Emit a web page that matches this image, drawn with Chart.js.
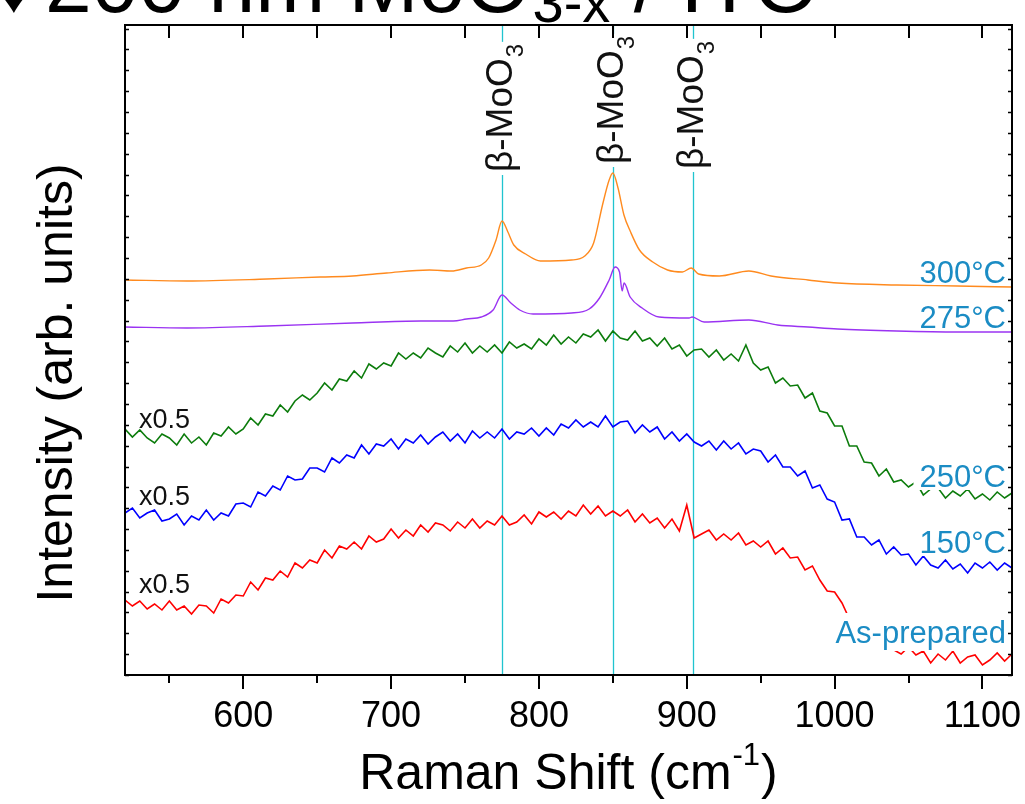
<!DOCTYPE html>
<html>
<head>
<meta charset="utf-8">
<script src="https://cdn.jsdelivr.net/npm/chart.js@4.4.1/dist/chart.umd.min.js"></script>
<style>
  html, body { margin: 0; padding: 0; background: #fff; }
  #wrap { width: 1025px; height: 804px; }
</style>
</head>
<body>
<div id="wrap"><canvas id="raman" width="1025" height="804"></canvas></div>
<script>
// ---------- data (Raman shift in cm-1, intensity in arb. units, offset per trace) ----------
var shiftNoisy = [520, 525, 530, 535, 540, 545, 550, 555, 560, 565,
  570, 575, 580, 585, 590, 595, 600, 605, 610, 615,
  620, 625, 630, 635, 640, 645, 650, 655, 660, 665,
  670, 675, 680, 685, 690, 695, 700, 705, 710, 715,
  720, 725, 730, 735, 740, 745, 750, 755, 760, 765,
  770, 775, 780, 785, 790, 795, 800, 805, 810, 815,
  820, 825, 830, 835, 840, 845, 850, 855, 860, 865,
  870, 875, 880, 885, 890, 895, 900, 905, 910, 915,
  920, 925, 930, 935, 940, 945, 950, 955, 960, 965,
  970, 975, 980, 985, 990, 995, 1000, 1005, 1010, 1015,
  1020, 1025, 1030, 1035, 1040, 1045, 1050, 1055, 1060, 1065,
  1070, 1075, 1080, 1085, 1090, 1095, 1100, 1105, 1110, 1115,
  1120];

// 250 °C (x0.5)
var int250 = [246, 238, 245, 237, 232, 241, 237, 230, 241, 232,
  238, 230, 242, 239, 248, 241, 246, 257, 250, 261,
  259, 270, 263, 274, 280, 275, 282, 292, 285, 296,
  294, 304, 297, 311, 306, 312, 309, 322, 316, 322,
  317, 327, 322, 318, 329, 323, 332, 322, 329, 323,
  330, 322, 333, 327, 331, 326, 336, 330, 340, 331,
  338, 332, 341, 338, 345, 334, 344, 337, 335, 344,
  334, 337, 329, 337, 326, 330, 319, 325, 326, 318,
  325, 315, 321, 314, 330, 312, 305, 308, 292, 297,
  289, 290, 277, 282, 264, 262, 249, 249, 229, 229,
  213, 212, 199, 206, 193, 195, 188, 193, 180, 186,
  187, 177, 184, 179, 186, 176, 181, 175, 183, 177,
  182];

// 150 °C (x0.5)
var int150 = [162, 167, 157, 162, 165, 154, 156, 161, 150, 159,
  155, 165, 155, 162, 159, 171, 172, 168, 183, 179,
  189, 185, 199, 195, 196, 207, 207, 203, 217, 212,
  220, 217, 230, 221, 231, 229, 236, 226, 236, 232,
  240, 231, 238, 243, 234, 241, 232, 244, 237, 243,
  237, 246, 236, 243, 241, 247, 239, 247, 240, 251,
  247, 255, 248, 253, 248, 259, 248, 253, 254, 242,
  250, 243, 248, 236, 243, 234, 241, 233, 229, 234,
  225, 234, 226, 232, 221, 226, 224, 213, 220, 208,
  208, 199, 204, 187, 190, 176, 173, 155, 156, 138,
  138, 130, 135, 121, 128, 120, 121, 110, 119, 110,
  107, 115, 106, 111, 102, 112, 107, 113, 105, 112,
  107];

// As-prepared (x0.5)
var intAsPrepared = [75, 69, 74, 66, 71, 65, 74, 65, 69, 61,
  70, 69, 62, 76, 72, 80, 79, 93, 85, 97,
  95, 104, 98, 112, 107, 115, 112, 125, 117, 129,
  126, 133, 126, 139, 133, 136, 146, 137, 145, 139,
  150, 143, 152, 150, 144, 153, 147, 156, 147, 154,
  150, 159, 150, 153, 160, 151, 163, 158, 163, 156,
  164, 159, 170, 161, 169, 159, 164, 159, 165, 153,
  161, 152, 157, 147, 156, 144, 170, 137, 141, 145,
  135, 141, 135, 142, 130, 134, 128, 134, 121, 127,
  117, 118, 105, 109, 95, 84, 83, 72, 56, 60,
  44, 44, 31, 37, 25, 21, 28, 20, 24, 12,
  21, 15, 24, 12, 18, 20, 10, 15, 22, 14,
  21];

// 300 °C
var shift300 = [520, 562, 616, 652, 674, 697, 726, 741, 751, 761,
  766, 771, 775, 779, 783, 791, 801, 822, 831, 837,
  843, 847.5, 850, 853.5, 857.5, 862, 868, 877, 887, 897,
  903, 908, 922, 942, 957, 982, 1002, 1042, 1083, 1120];
var int300 = [395, 394, 396, 398, 399, 402, 405, 404, 407, 410,
  417, 435, 454, 443, 430, 421, 414, 415, 419, 432,
  470, 495, 502, 487, 460, 443, 425, 413, 405, 403,
  407, 401, 399, 404, 399, 395, 392, 390, 389, 388];

// 275 °C
var shift275 = [520, 562, 616, 674, 720, 742, 751, 761, 769, 775,
  781, 787, 796, 822, 834, 841, 847.5, 851.5, 854.5, 856.3,
  857.6, 861.7, 869.8, 881.3, 901.6, 903.6, 911.7, 942, 961.5, 982,
  1002, 1042, 1083, 1120];
var int275 = [348, 347, 349, 352, 354, 354, 356, 358, 365, 380,
  372, 365, 361, 362, 366, 377, 395, 408, 403, 384,
  392, 378, 367, 358, 357, 358, 353, 355, 350, 348,
  346, 344, 343, 343];

// beta-MoO3 reference positions
var betaPeaks = [775, 850, 904];

// axis ticks
var xMajorTicks = [600, 700, 800, 900, 1000, 1100];
var xTickLabels = ['600', '700', '800', '900', '1000', '1100'];
var xMinorTicks = [550, 650, 750, 850, 950, 1050];

// trace labels
var traceLabels = ['300°C', '275°C', '250°C', '150°C', 'As-prepared'];
var scaleLabels = ['x0.5', 'x0.5', 'x0.5'];

// ---------- helpers ----------
function pairs(xs, ys) {
  return xs.map(function (x, i) { return { x: x, y: ys[i] }; });
}

var FONT = '"Liberation Sans", Arial, "DejaVu Sans", sans-serif';

// ---------- decorations plugin ----------
var ramanDecor = {
  id: 'ramanDecor',
  beforeDatasetsDraw: function (chart) {
    var ctx = chart.ctx, a = chart.chartArea, xs = chart.scales.x;
    ctx.save();
    ctx.strokeStyle = '#20c4cf';
    ctx.lineWidth = 1.3;
    betaPeaks.forEach(function (p) {
      var px = Math.round(xs.getPixelForValue(p)) + 0.5;
      ctx.beginPath();
      ctx.moveTo(px, a.top);
      ctx.lineTo(px, a.bottom);
      ctx.stroke();
    });
    ctx.restore();
  },
  afterDatasetsDraw: function (chart) {
    var ctx = chart.ctx, a = chart.chartArea;
    var xs = chart.scales.x, ys = chart.scales.y;
    ctx.save();

    // beta-MoO3 labels, rotated, with white backing over the reference lines
    var betaBottoms = [172, 164, 169];
    betaPeaks.forEach(function (p, i) {
      var px = xs.getPixelForValue(p);
      ctx.save();
      ctx.translate(px + 10, betaBottoms[i]);
      ctx.rotate(-Math.PI / 2);
      ctx.font = '37px ' + FONT;
      var w1 = ctx.measureText('\u03b2-MoO').width;
      ctx.font = '24px ' + FONT;
      var w2 = ctx.measureText('3').width;
      ctx.fillStyle = '#fff';
      ctx.fillRect(-3, -30, w1 + w2 + 6, 46);
      ctx.fillStyle = '#111';
      ctx.textBaseline = 'alphabetic';
      ctx.textAlign = 'left';
      ctx.font = '37px ' + FONT;
      ctx.fillText('\u03b2-MoO', 0, 0);
      ctx.font = '24px ' + FONT;
      ctx.fillText('3', w1 + 1, 11);
      ctx.restore();
    });

    // temperature labels
    var tBase = [283, 328, 487, 553, 643];
    var tBox = [false, false, true, true, true];
    ctx.font = '31px ' + FONT;
    ctx.textAlign = 'right';
    ctx.textBaseline = 'alphabetic';
    traceLabels.forEach(function (t, i) {
      var w = ctx.measureText(t).width;
      var rx = 1006;
      if (tBox[i]) {
        ctx.fillStyle = '#fff';
        var desc = t === 'As-prepared' ? 8 : 3;
        var up = t === 'As-prepared' ? 30 : 25;
        ctx.fillRect(rx - w - 6, tBase[i] - up, w + 9, up + desc);
      }
      ctx.fillStyle = '#1b8cc4';
      ctx.fillText(t, rx, tBase[i]);
    });

    // x0.5 labels
    var sBase = [428, 505, 593];
    ctx.font = '27px ' + FONT;
    ctx.textAlign = 'left';
    ctx.fillStyle = '#111';
    scaleLabels.forEach(function (s, i) { ctx.fillText(s, 139, sBase[i]); });

    // frame
    ctx.strokeStyle = '#000';
    ctx.lineWidth = 2;
    ctx.strokeRect(a.left, a.top, a.right - a.left, a.bottom - a.top);

    // x ticks: bottom outward, top inward
    ctx.beginPath();
    xMajorTicks.forEach(function (v) {
      var px = Math.round(xs.getPixelForValue(v));
      ctx.moveTo(px, a.bottom); ctx.lineTo(px, a.bottom + 14);
      ctx.moveTo(px, a.top); ctx.lineTo(px, a.top + 13);
    });
    xMinorTicks.forEach(function (v) {
      var px = Math.round(xs.getPixelForValue(v));
      ctx.moveTo(px, a.bottom); ctx.lineTo(px, a.bottom + 8);
      ctx.moveTo(px, a.top); ctx.lineTo(px, a.top + 13);
    });
    ctx.stroke();

    // y ticks: small inward marks on both sides
    ctx.lineWidth = 1.5;
    ctx.beginPath();
    for (var v = 0; v <= ys.max; v += 20.85) {
      var py = Math.round(ys.getPixelForValue(v)) + 0.5;
      ctx.moveTo(a.left, py); ctx.lineTo(a.left + 4, py);
      ctx.moveTo(a.right, py); ctx.lineTo(a.right - 4, py);
    }
    ctx.stroke();

    // x tick labels
    ctx.fillStyle = '#000';
    ctx.font = '36px ' + FONT;
    ctx.textAlign = 'center';
    xMajorTicks.forEach(function (v, i) {
      ctx.fillText(xTickLabels[i], xs.getPixelForValue(v), 727);
    });

    // x title with superscript
    var mid = (a.left + a.right) / 2;
    ctx.textAlign = 'left';
    ctx.font = '50px ' + FONT;
    var p1 = 'Raman Shift (cm', p3 = ')';
    var w1 = ctx.measureText(p1).width, w3 = ctx.measureText(p3).width;
    ctx.font = '31px ' + FONT;
    var w2 = ctx.measureText('-1').width;
    var x0 = mid - (w1 + w2 + w3 + 2) / 2;
    ctx.font = '50px ' + FONT;
    ctx.fillText(p1, x0, 789);
    ctx.font = '31px ' + FONT;
    ctx.fillText('-1', x0 + w1 + 1, 765);
    ctx.font = '50px ' + FONT;
    ctx.fillText(p3, x0 + w1 + w2 + 2, 789);

    // y title
    ctx.save();
    ctx.translate(72, 383);
    ctx.rotate(-Math.PI / 2);
    ctx.textAlign = 'center';
    ctx.font = '50px ' + FONT;
    ctx.fillText('Intensity (arb. units)', 0, 0);
    ctx.restore();

    // figure title, cut off at the top edge
    ctx.font = '84px ' + FONT;
    ctx.textAlign = 'center';
    ctx.fillText('\u2666', 14, 12);
    ctx.textAlign = 'left';
    var tx = 45;
    ctx.fillText('200 nm MoO', tx, 12);
    tx += ctx.measureText('200 nm MoO').width + 2;
    ctx.font = '56px ' + FONT;
    ctx.fillText('3-x', tx, 22);
    tx += ctx.measureText('3-x').width;
    ctx.font = '84px ' + FONT;
    ctx.fillText(' / ITO', tx, 12);

    ctx.restore();
  }
};

// ---------- chart ----------
new Chart(document.getElementById('raman'), {
  type: 'scatter',
  data: {
    datasets: [{
      label: '300°C',
      data: pairs(shift300, int300),
      borderColor: '#ff8a1e',
      borderWidth: 1.4,
      showLine: true,
      cubicInterpolationMode: 'monotone'
    }, {
      label: '275°C',
      data: pairs(shift275, int275),
      borderColor: '#9a33f2',
      borderWidth: 1.4,
      showLine: true,
      cubicInterpolationMode: 'monotone'
    }, {
      label: '250°C',
      data: pairs(shiftNoisy, int250),
      borderColor: '#0c7c0c',
      borderWidth: 1.6,
      showLine: true
    }, {
      label: '150°C',
      data: pairs(shiftNoisy, int150),
      borderColor: '#0000ff',
      borderWidth: 1.6,
      showLine: true
    }, {
      label: 'As-prepared',
      data: pairs(shiftNoisy, intAsPrepared),
      borderColor: '#ff0000',
      borderWidth: 1.6,
      showLine: true
    }]
  },
  options: {
    responsive: false,
    devicePixelRatio: 1,
    animation: false,
    layout: { padding: { left: 125, right: 13, top: 25, bottom: 129 } },
    elements: { point: { radius: 0, hoverRadius: 0 } },
    plugins: { legend: { display: false }, tooltip: { enabled: false } },
    scales: {
      x: { type: 'linear', display: false, min: 520, max: 1120 },
      y: { type: 'linear', display: false, min: 0, max: 650 }
    }
  },
  plugins: [ramanDecor]
});
</script>
</body>
</html>
